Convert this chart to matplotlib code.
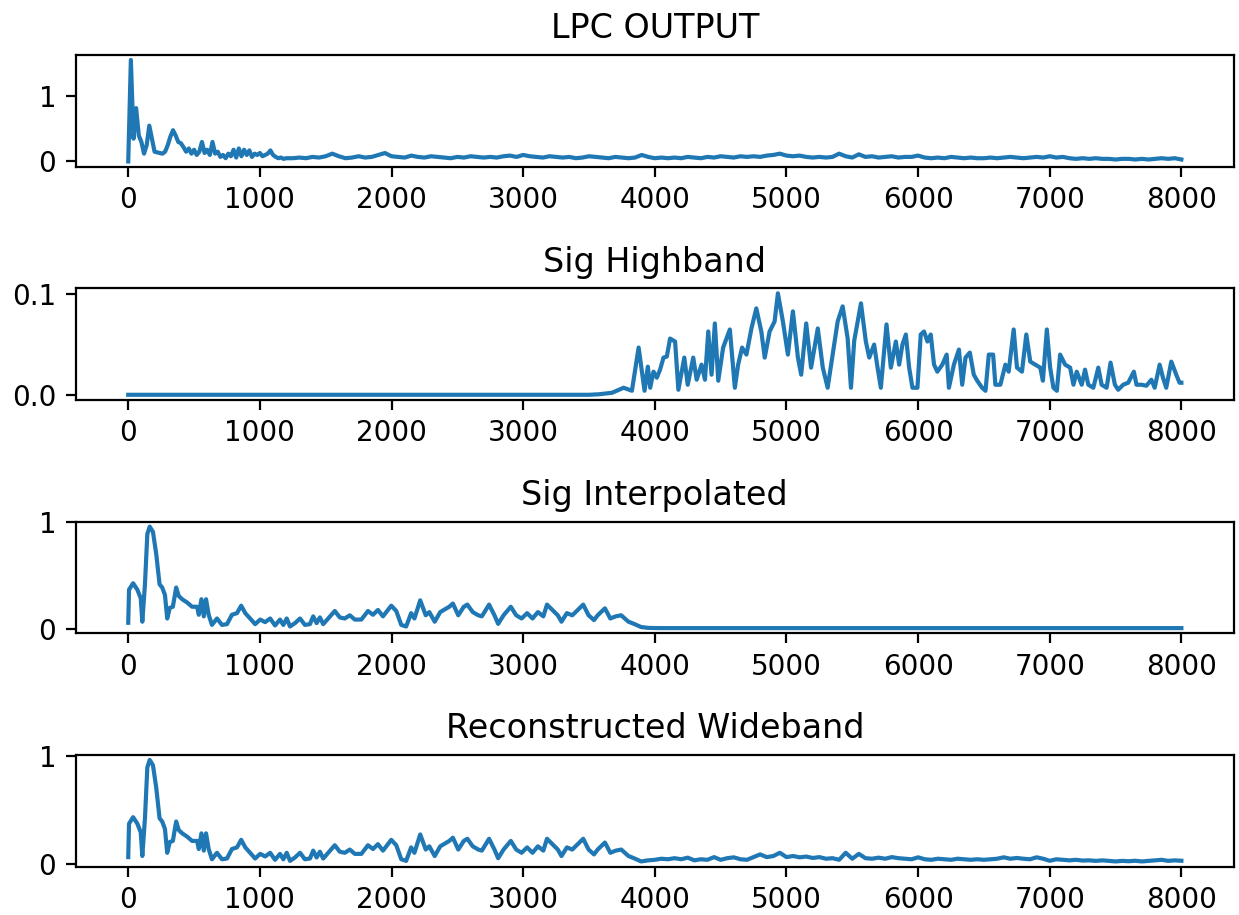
# -*- coding: utf-8 -*-
import numpy as np
import matplotlib
matplotlib.use('Agg')
import matplotlib.pyplot as plt

# LPC output: fine part 0..1200 (step 20), coarse part 1250..8000 (step 50)
lpc_lo_freq = np.arange(0, 1201, 20)
lpc_lo_mag = [0.0, 1.56, 0.35, 0.82, 0.4, 0.3, 0.12, 0.25, 0.55, 0.35,
              0.15, 0.14, 0.13, 0.12, 0.15, 0.25, 0.38, 0.48, 0.4, 0.3,
              0.28, 0.22, 0.15, 0.2, 0.12, 0.18, 0.1, 0.15, 0.3, 0.13,
              0.18, 0.1, 0.3, 0.12, 0.15, 0.07, 0.1, 0.05, 0.12, 0.08,
              0.18, 0.06, 0.2, 0.08, 0.18, 0.1, 0.17, 0.07, 0.12, 0.1,
              0.13, 0.08, 0.1, 0.12, 0.17, 0.1, 0.07, 0.05, 0.06, 0.04,
              0.05]
lpc_hi_freq = np.arange(1250, 8001, 50)
lpc_hi_mag = [0.05, 0.06, 0.05, 0.07, 0.06, 0.08, 0.12, 0.08, 0.05, 0.06, 0.08, 0.06, 0.07, 0.1, 0.13,
              0.08, 0.07, 0.06, 0.09, 0.07, 0.06, 0.08, 0.07, 0.06, 0.05, 0.07, 0.06, 0.08, 0.07, 0.06, 0.07, 0.06, 0.08, 0.09, 0.07,
              0.1, 0.08, 0.07, 0.06, 0.08, 0.07, 0.06, 0.07, 0.05, 0.06, 0.08, 0.07, 0.06, 0.05, 0.07, 0.06, 0.05, 0.06, 0.1, 0.07,
              0.05, 0.06, 0.05, 0.06, 0.05, 0.07, 0.06, 0.05, 0.07, 0.06, 0.08, 0.07, 0.06, 0.08, 0.07, 0.08, 0.07, 0.09, 0.1, 0.12,
              0.09, 0.08, 0.09, 0.07, 0.06, 0.07, 0.06, 0.07, 0.12, 0.08, 0.06, 0.11, 0.07, 0.08, 0.06, 0.07, 0.08, 0.06, 0.07, 0.07,
              0.09, 0.06, 0.05, 0.06, 0.05, 0.07, 0.06, 0.05, 0.06, 0.05, 0.05, 0.06, 0.05, 0.06, 0.07, 0.06, 0.05, 0.06, 0.07, 0.06,
              0.08, 0.06, 0.07, 0.05, 0.04, 0.05, 0.04, 0.05, 0.04, 0.04, 0.03, 0.04, 0.04, 0.03, 0.04, 0.03, 0.04, 0.05, 0.04, 0.05,
              0.03]

# Highband signal
hb_freq = [0, 3500, 3574, 3675, 3763, 3826, 3877, 3902, 3922, 3947, 3965, 3990, 4015, 4040,
           4066, 4091, 4116, 4154, 4179, 4204, 4224, 4250, 4292, 4318, 4355, 4381, 4406, 4431,
           4456, 4482, 4519, 4570, 4608, 4633, 4663, 4696, 4734, 4771, 4809, 4835, 4872, 4910,
           4935, 4973, 5011, 5049, 5087, 5112, 5150, 5187, 5238, 5276, 5313, 5351, 5389, 5427,
           5465, 5490, 5515, 5566, 5603, 5629, 5666, 5692, 5717, 5760, 5793, 5831, 5856, 5881,
           5907, 5932, 5957, 5995, 6020, 6045, 6071, 6096, 6121, 6146, 6184, 6217, 6234, 6272,
           6310, 6335, 6360, 6393, 6423, 6449, 6486, 6512, 6537, 6570, 6587, 6625, 6663, 6688,
           6726, 6751, 6789, 6822, 6852, 6890, 6928, 6948, 6978, 7003, 7028, 7054, 7079, 7117,
           7155, 7180, 7205, 7243, 7268, 7293, 7331, 7369, 7394, 7432, 7462, 7495, 7520, 7558,
           7596, 7639, 7659, 7697, 7734, 7772, 7797, 7835, 7860, 7885, 7923, 7941, 7961, 7986, 8000]
hb_mag = [0.0, 0.0, 0.0005, 0.002, 0.007, 0.004, 0.047, 0.023, 0.004, 0.028, 0.007, 0.023, 0.017, 0.025,
          0.037, 0.038, 0.056, 0.053, 0.005, 0.023, 0.037, 0.010, 0.037, 0.015, 0.030, 0.015, 0.063, 0.020,
          0.071, 0.014, 0.047, 0.065, 0.007, 0.030, 0.047, 0.040, 0.066, 0.086, 0.063, 0.037, 0.063, 0.073,
          0.101, 0.073, 0.040, 0.083, 0.037, 0.020, 0.071, 0.027, 0.066, 0.027, 0.007, 0.040, 0.073, 0.088,
          0.056, 0.007, 0.054, 0.091, 0.053, 0.037, 0.050, 0.027, 0.007, 0.070, 0.027, 0.053, 0.030, 0.050,
          0.060, 0.027, 0.007, 0.007, 0.060, 0.063, 0.053, 0.060, 0.030, 0.023, 0.030, 0.040, 0.007, 0.030,
          0.045, 0.010, 0.037, 0.042, 0.020, 0.014, 0.007, 0.004, 0.040, 0.040, 0.010, 0.010, 0.030, 0.023,
          0.065, 0.027, 0.023, 0.060, 0.033, 0.030, 0.027, 0.014, 0.065, 0.027, 0.007, 0.004, 0.040, 0.030,
          0.027, 0.010, 0.023, 0.010, 0.025, 0.010, 0.007, 0.027, 0.010, 0.007, 0.032, 0.010, 0.005, 0.010,
          0.012, 0.023, 0.010, 0.010, 0.009, 0.015, 0.007, 0.030, 0.017, 0.007, 0.033, 0.027, 0.020, 0.012, 0.012]

# Interpolated narrowband signal
interp_freq = [0, 6, 37, 69, 95, 107, 127, 145, 163, 188, 213, 238, 258, 279, 296, 316, 339, 364,
               384, 410, 447, 485, 523, 536, 556, 574, 591, 611, 636, 674, 712, 750, 788, 826,
               858, 889, 926, 964, 1002, 1040, 1078, 1115, 1153, 1178, 1204, 1229, 1267, 1305,
               1342, 1380, 1405, 1431, 1456, 1481, 1519, 1569, 1607, 1645, 1683, 1721, 1771, 1821,
               1859, 1897, 1935, 1998, 2036, 2074, 2111, 2149, 2174, 2218, 2260, 2287, 2328, 2370,
               2397, 2439, 2466, 2507, 2549, 2576, 2617, 2659, 2686, 2741, 2782, 2810, 2851, 2906,
               2947, 2988, 3030, 3071, 3112, 3153, 3181, 3222, 3263, 3291, 3332, 3373, 3415, 3456,
               3497, 3538, 3566, 3621, 3662, 3703, 3745, 3772, 3800, 3841, 3896, 3951, 4028, 8000]
interp_mag = [0.06, 0.37, 0.43, 0.37, 0.29, 0.07, 0.42, 0.89, 0.96, 0.91, 0.70, 0.42, 0.39, 0.32,
              0.10, 0.20, 0.21, 0.39, 0.31, 0.28, 0.25, 0.21, 0.21, 0.135, 0.28, 0.12, 0.28, 0.135,
              0.04, 0.10, 0.04, 0.047, 0.135, 0.15, 0.22, 0.15, 0.10, 0.047, 0.09, 0.066, 0.10,
              0.035, 0.09, 0.04, 0.10, 0.025, 0.057, 0.10, 0.04, 0.047, 0.12, 0.057, 0.11, 0.047,
              0.10, 0.17, 0.11, 0.10, 0.13, 0.09, 0.09, 0.17, 0.135, 0.18, 0.12, 0.22, 0.17, 0.04,
              0.025, 0.15, 0.10, 0.27, 0.13, 0.16, 0.07, 0.16, 0.18, 0.21, 0.24, 0.13, 0.21, 0.23,
              0.16, 0.13, 0.12, 0.23, 0.13, 0.05, 0.13, 0.21, 0.13, 0.10, 0.15, 0.10, 0.16, 0.12,
              0.23, 0.18, 0.13, 0.07, 0.15, 0.13, 0.18, 0.23, 0.13, 0.085, 0.13, 0.195, 0.10, 0.12,
              0.13, 0.10, 0.07, 0.05, 0.02, 0.012, 0.01, 0.01]

# Reconstructed wideband: narrowband part below 3900, new highband above
recon_hi_freq = np.arange(3950, 8001, 50)
recon_hi_mag = [0.03, 0.035, 0.045, 0.04, 0.05, 0.04, 0.055, 0.03, 0.04, 0.035, 0.06,
                0.035, 0.05, 0.058, 0.04, 0.035, 0.06, 0.085, 0.06, 0.07, 0.1,
                0.06, 0.07, 0.058, 0.065, 0.052, 0.06, 0.045, 0.05, 0.035, 0.1,
                0.045, 0.09, 0.05, 0.045, 0.055, 0.045, 0.06, 0.05, 0.045, 0.04,
                0.058, 0.04, 0.035, 0.045, 0.04, 0.035, 0.045, 0.04, 0.035, 0.04,
                0.035, 0.04, 0.045, 0.058, 0.045, 0.052, 0.045, 0.04, 0.058, 0.045,
                0.026, 0.04, 0.035, 0.03, 0.035, 0.028, 0.03, 0.025, 0.03, 0.025,
                0.02, 0.025, 0.022, 0.026, 0.02, 0.025, 0.03, 0.035, 0.025, 0.03,
                0.026]

titles = ['LPC OUTPUT', 'Sig Highband', 'Sig Interpolated', 'Reconstructed Wideband']

# stitch series
lpc_freq = np.concatenate([lpc_lo_freq, lpc_hi_freq])
lpc_mag = np.array(lpc_lo_mag + lpc_hi_mag)
n_low = interp_freq.index(3896) + 1
recon_freq = np.concatenate([interp_freq[:n_low], recon_hi_freq])
recon_mag = np.array(interp_mag[:n_low] + recon_hi_mag)

series = [(lpc_freq, lpc_mag), (hb_freq, hb_mag), (interp_freq, interp_mag), (recon_freq, recon_mag)]

fig, axes = plt.subplots(4, 1, figsize=(6.195, 4.575), dpi=200)
for ax, (f, m), t in zip(axes, series, titles):
    ax.plot(f, m)
    ax.set_title(t)

fig.subplots_adjust(left=0.061, right=0.996, top=0.940, bottom=0.053, hspace=1.09)
plt.savefig('out.png')
